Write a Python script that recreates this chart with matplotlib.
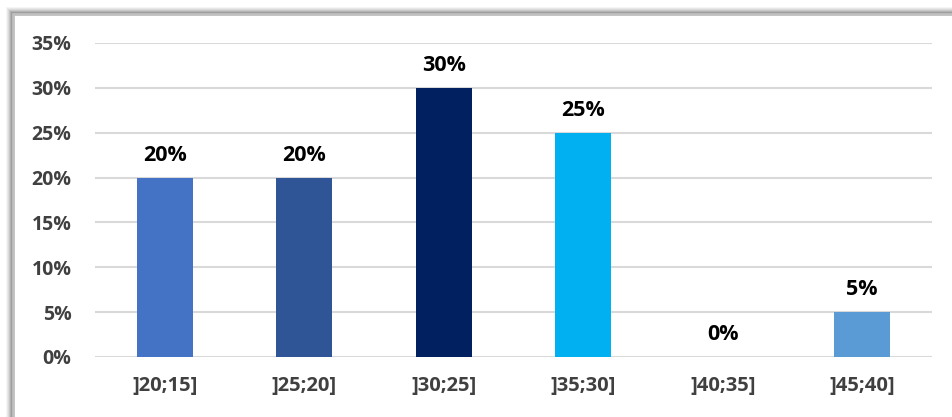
import matplotlib.pyplot as plt
from matplotlib.patches import Rectangle
from matplotlib.ticker import FuncFormatter

categories = [']20;15]', ']25;20]', ']30;25]', ']35;30]', ']40;35]', ']45;40]']
shares = [20, 20, 30, 25, 0, 5]
colors = ['#4472C4', '#2F5597', '#002060', '#00B0F0', '#A5A5A5', '#5B9BD5']

plt.rcParams['font.family'] = ['Open Sans', 'DejaVu Sans']

fig = plt.figure(figsize=(9.53, 4.17), dpi=100)
W, H = 953, 417

# soft shadow and grey frame around the chart box
for i, a in enumerate([0.04, 0.05, 0.06, 0.08, 0.1, 0.12]):
    off = 7 - i
    fig.patches.append(Rectangle(((13 - off) / W, 0), 1, (H - 14 + off) / H,
                                 transform=fig.transFigure, facecolor='black',
                                 edgecolor='none', alpha=a, zorder=0))
fig.patches.append(Rectangle((13 / W, -0.1), 1, (H - 14) / H + 0.1,
                             transform=fig.transFigure, facecolor='white',
                             edgecolor='#BFBFBF', linewidth=2, zorder=1))

ax = fig.add_axes([95 / W, 1 - 357 / H, (932 - 95) / W, (357 - 43) / H])
ax.set_zorder(2)
ax.patch.set_visible(False)

x = range(len(categories))
ax.bar(x, shares, width=0.4, color=colors, zorder=3)
for xi, v in zip(x, shares):
    ax.text(xi, v + 1.3, f'{v}%', ha='center', va='bottom',
            fontsize=15.5, fontweight='bold', color='black')

ax.set_xlim(-0.5, len(categories) - 0.5)
ax.set_ylim(0, 35)
ax.set_yticks(range(0, 36, 5))
ax.yaxis.set_major_formatter(FuncFormatter(lambda v, p: f'{v:.0f}%'))
ax.set_xticks(list(x))
ax.set_xticklabels(categories)
ax.grid(axis='y', color='#D9D9D9', linewidth=1.5, zorder=0)
for s in ax.spines.values():
    s.set_visible(False)
ax.tick_params(length=0, labelcolor='#404040')
ax.tick_params(axis='x', labelsize=14.5, pad=14)
ax.tick_params(axis='y', labelsize=14, pad=17)
for lab in ax.get_xticklabels() + ax.get_yticklabels():
    lab.set_fontweight('bold')

fig.savefig('out.png', dpi=100)
